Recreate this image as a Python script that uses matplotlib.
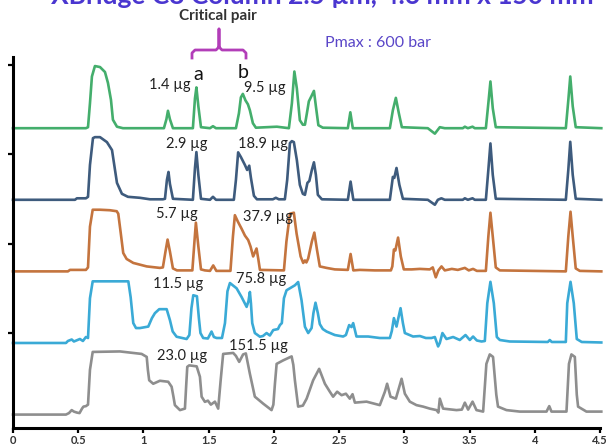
import matplotlib
matplotlib.use("Agg")
import matplotlib.pyplot as plt
from matplotlib.lines import Line2D

plt.rcParams['font.family'] = ['Lato', 'DejaVu Sans']

# retention time (min) and signal above each trace's own baseline
green_t = [0.0, 0.559, 0.575, 0.590, 0.605, 0.628, 0.667, 0.705, 0.728, 0.751, 0.766, 0.797, 0.843,
           1.157, 1.176, 1.188, 1.203, 1.226, 1.379, 1.395, 1.406, 1.421, 1.441, 1.510, 1.533, 1.556,
           1.709, 1.732, 1.747, 1.762, 1.782, 1.801, 1.816, 1.839, 1.862, 2.023, 2.115, 2.138, 2.157,
           2.176, 2.199, 2.222, 2.238, 2.253, 2.268, 2.287, 2.307, 2.322, 2.341, 2.375, 2.567, 2.586,
           2.605, 2.889, 2.912, 2.935, 2.958, 2.981, 3.180, 3.234, 3.272, 3.310, 3.448, 3.464, 3.487,
           3.523, 3.540, 3.625, 3.644, 3.660, 3.678, 3.701, 4.238, 4.257, 4.272, 4.291, 4.314, 4.51]
green_y = [0, 0, 1, 25, 52, 62.5, 61.5, 56.5, 45.5, 28.5, 8.5, 1.5, 0,
           0, 9, 17.5, 9, 0, 0, 30, 41, 22, 1, 0, 2, 0,
           0, 15, 31, 34.5, 28, 24, 18, 5, 0.5, 1.5, 0, 25, 57,
           40, 8, 3.5, 3.5, 15, 27, 32, 37.5, 22, 3, 0.5, 0, 16,
           0, 0, 18, 30.5, 15, 1, 0, -5.5, 1, 0, 0, 1.5, 0,
           1.5, 0, 0, 25, 47, 20, 1, 0, 28, 52, 22, 1, 0]

navy_t = [0.0, 0.475, 0.490, 0.559, 0.575, 0.590, 0.613, 0.628, 0.667, 0.720, 0.759, 0.782, 0.797,
          0.835, 0.881, 0.973, 1.050, 1.149, 1.165, 1.180, 1.192, 1.203, 1.226, 1.379, 1.395, 1.406,
          1.421, 1.441, 1.510, 1.533, 1.556, 1.693, 1.709, 1.726, 1.747, 1.778, 1.795, 1.811, 1.824,
          1.847, 1.870, 1.992, 2.015, 2.038, 2.084, 2.102, 2.123, 2.138, 2.153, 2.176, 2.199, 2.222,
          2.238, 2.257, 2.272, 2.291, 2.307, 2.322, 2.337, 2.368, 2.567, 2.588, 2.609, 2.889, 2.912,
          2.923, 2.940, 2.962, 2.989, 3.180, 3.234, 3.257, 3.284, 3.310, 3.448, 3.464, 3.487, 3.523,
          3.540, 3.625, 3.644, 3.660, 3.678, 3.701, 4.238, 4.257, 4.272, 4.291, 4.314, 4.51]
navy_y = [0, 0, 1.5, 1.5, 3, 35, 62, 63, 63, 58, 50, 30, 17,
          6, 3, 2, 0.5, 0.5, 1, 20, 28, 16, 1, 0, 32, 48,
          25, 1, 0, 3, 0, 0, 20, 47.7, 43, 35, 30, 34.3, 22,
          4, 0.5, 0.5, 2, 0.5, 0.5, 20, 57, 59, 58, 40, 15, 6,
          5, 17, 19, 30, 37.7, 25, 5, 0.5, 0, 18.3, 0, 0, 23,
          22, 32, 15, 1, 0, -5, 0, 1.5, 0, 0, 1.5, 0, 1.5,
          0, 0, 30, 56.7, 25, 1, 0, 30, 58.3, 25, 1, 0]

orange_t = [0.0, 0.421, 0.437, 0.559, 0.575, 0.590, 0.611, 0.667, 0.743, 0.795, 0.807, 0.826, 0.845,
            0.871, 0.922, 1.025, 1.126, 1.149, 1.169, 1.185, 1.203, 1.226, 1.257, 1.375, 1.391, 1.402,
            1.421, 1.441, 1.471, 1.510, 1.535, 1.559, 1.667, 1.686, 1.701, 1.724, 1.752, 1.778, 1.803,
            1.821, 1.841, 1.867, 1.881, 1.893, 2.077, 2.096, 2.123, 2.153, 2.174, 2.205, 2.225, 2.238,
            2.249, 2.263, 2.291, 2.310, 2.330, 2.352, 2.404, 2.467, 2.567, 2.588, 2.609, 2.659, 2.774,
            2.897, 2.908, 2.920, 2.931, 2.952, 2.973, 2.996, 3.057, 3.119, 3.195, 3.218, 3.241, 3.261,
            3.285, 3.310, 3.364, 3.410, 3.464, 3.494, 3.527, 3.556, 3.625, 3.644, 3.660, 3.678, 3.701,
            3.732, 4.238, 4.257, 4.274, 4.291, 4.314, 4.345, 4.51]
orange_y = [0, 0, 1.5, 1.5, 4, 45, 62, 62, 61.5, 60.5, 58, 38.5, 18.5,
            12.5, 8.5, 5, 3.5, 4, 20, 32, 20, 3, 1, 1, 30, 49,
            25, 2, 1, 0.5, 6, 0.5, 0.5, 35, 56.5, 50, 43, 36, 31.5,
            25, 15, 23, 12, 1.5, 1, 30, 58, 59, 38, 15, 8.5, 11,
            9, 13, 30, 39, 22, 5, 3.5, 2, 1.5, 17.5, 1, 1.5, 1,
            1, 5, 22, 21, 34, 15, 2, 2, 2.5, 2, 4, -6, 1,
            5, 1, 2.5, 1.5, 3.5, 1, 2.5, 0.5, 0.5, 35, 59, 35, 4,
            1, 0, 35, 60, 35, 3, 0.5, 0]

blue_t = [0.0, 0.406, 0.421, 0.450, 0.467, 0.513, 0.536, 0.559, 0.575, 0.590, 0.611, 0.743, 0.884,
          0.902, 0.922, 0.943, 0.973, 1.037, 1.065, 1.088, 1.121, 1.178, 1.203, 1.224, 1.254, 1.331,
          1.352, 1.368, 1.382, 1.410, 1.425, 1.437, 1.458, 1.494, 1.522, 1.540, 1.561, 1.602, 1.625,
          1.644, 1.663, 1.714, 1.752, 1.791, 1.805, 1.816, 1.824, 1.834, 1.854, 1.893, 1.916, 1.944,
          1.969, 1.995, 2.031, 2.046, 2.061, 2.077, 2.097, 2.161, 2.186, 2.212, 2.238, 2.263, 2.289,
          2.303, 2.319, 2.337, 2.352, 2.375, 2.404, 2.467, 2.531, 2.552, 2.577, 2.595, 2.608, 2.633,
          2.723, 2.812, 2.889, 2.904, 2.920, 2.940, 2.954, 2.971, 2.989, 3.004, 3.067, 3.119, 3.165,
          3.208, 3.234, 3.259, 3.272, 3.292, 3.323, 3.374, 3.425, 3.469, 3.502, 3.527, 3.556, 3.592,
          3.617, 3.636, 3.660, 3.686, 3.709, 3.732, 3.808, 4.100, 4.115, 4.130, 4.238, 4.249, 4.274,
          4.299, 4.322, 4.360, 4.51]
blue_y = [0, 0, 2, 3.5, 1.5, 4, 2, 6, 5, 45, 62, 62, 62,
          46, 20, 15, 15, 16.5, 25, 30, 34, 34, 23, 11.6, 6.3, 4,
          8, 35, 48, 47, 25, 10, 5, 4.5, 11.5, 6, 5, 5, 20,
          52, 60.3, 55, 46.3, 36.3, 42, 51.3, 40, 20, 10, 6.3, 7, 10,
          7.5, 13, 14, 18, 20, 45, 53, 58, 61.3, 43, 16.3, 10, 15,
          30, 40.5, 30, 19, 14, 11.5, 8, 6.5, 8, 18, 16, 20, 6.5,
          6.5, 5, 5, 12, 25, 16.5, 25, 35, 20, 10, 6.5, 7, 5,
          5, 6, -3.5, 0, 10, 4, 6, 3, 8, 3, 6.5, 2.5, 1.5,
          2, 40, 61.5, 40, 6, 3, 1.5, 1, 3, 1, 1, 40, 61.5,
          40, 4, 1, 0.5]

gray_t = [0.0, 0.406, 0.429, 0.450, 0.467, 0.490, 0.510, 0.529, 0.540, 0.559, 0.575, 0.590, 0.611,
          0.820, 0.986, 1.025, 1.034, 1.044, 1.075, 1.126, 1.190, 1.216, 1.230, 1.241, 1.280, 1.318,
          1.328, 1.336, 1.351, 1.408, 1.433, 1.446, 1.471, 1.494, 1.517, 1.548, 1.573, 1.592, 1.611,
          1.688, 1.709, 1.734, 1.764, 1.785, 1.816, 1.854, 1.918, 1.982, 1.996, 2.008, 2.021, 2.071,
          2.136, 2.149, 2.161, 2.186, 2.222, 2.251, 2.301, 2.347, 2.391, 2.429, 2.454, 2.485, 2.519,
          2.552, 2.582, 2.603, 2.621, 2.710, 2.812, 2.851, 2.868, 2.894, 2.935, 2.979, 3.004, 3.042,
          3.093, 3.144, 3.195, 3.247, 3.261, 3.272, 3.297, 3.400, 3.441, 3.464, 3.489, 3.523, 3.553,
          3.604, 3.629, 3.655, 3.680, 3.705, 3.718, 3.783, 3.885, 4.090, 4.111, 4.128, 4.243, 4.262,
          4.281, 4.307, 4.322, 4.332, 4.396, 4.51]
gray_y = [0, 0, 1.5, 4.5, 3, 2, 1.5, 6, 8, 8.5, 10, 45, 63,
          63.5, 61, 58, 45, 34.5, 31, 34, 33, 28, 18, 9.5, 4.5, 6,
          30, 48, 49.5, 48.5, 38, 18, 12.8, 14, 10, 13, 6, 34.5, 61,
          62, 59, 53, 60.5, 61.5, 41, 18, 11, 4.5, 10, 31, 51, 54.5,
          58.5, 50, 34.5, 8, 9, 16, 34.5, 46, 31, 23, 18, 23, 19.5,
          21, 16, 20.5, 12, 13, 9.5, 23, 31, 18, 16, 36, 21, 13,
          9.5, 8, 6, 4.5, 2, 16, 6, 4.5, 5, 12, 5, 13, 4.5,
          3, 51, 60.5, 58, 20, 8, 4.5, 3, 3, 8.5, 3, 3, 51,
          60.5, 58, 20, 8, 3, 3]

traces = [
    (gray_t, gray_y, '#8E8E8E'),
    (blue_t, blue_y, '#3AAAD6'),
    (orange_t, orange_y, '#C4743E'),
    (navy_t, navy_y, '#3E5B7D'),
    (green_t, green_y, '#44AE6C'),
]
offsets = [8, 80, 152, 224, 296]

x_ticks = [0, 0.5, 1, 1.5, 2, 2.5, 3, 3.5, 4, 4.5]
x_labels = ['0', '0.5', '1', '1.5', '2', '2.5', '3', '3.5', '4', '4.5']

mass_labels = [('1.4 µg', 170, 85), ('9.5 µg', 265, 88),
               ('2.9 µg', 187, 144), ('18.9 µg', 263, 144),
               ('5.7 µg', 177, 214), ('37.9 µg', 268, 217),
               ('11.5 µg', 178, 284), ('75.8 µg', 261, 279),
               ('23.0 µg', 182, 356), ('151.5 µg', 258, 346)]

W, H = 607, 445
fig = plt.figure(figsize=(W / 100, H / 100), dpi=100)
ax = fig.add_axes([13 / W, (H - 428) / H, 587 / W, 371 / H])

for (t, y, c), off in zip(traces, offsets):
    ax.plot(t, [v + off for v in y], color=c, lw=1.9, solid_joinstyle='round', clip_on=False)

ax.set_xlim(0, 4.5)
ax.set_ylim(-5.5, 367.6)
ax.set_xticks(x_ticks)
ax.set_xticklabels(x_labels, fontsize=8, fontweight='bold', color='#333333')
ax.set_yticks([90, 180, 270, 360])
ax.set_yticklabels([])
ax.tick_params(axis='both', direction='out', length=3.5, width=1.6, color='black')
ax.tick_params(axis='x', pad=1.5)
for s in ['top', 'right']:
    ax.spines[s].set_visible(False)
for s in ['left', 'bottom']:
    ax.spines[s].set_linewidth(2.2)
    ax.spines[s].set_color('black')


def fx(px):
    return px / W


def fy(py):
    return 1 - py / H


fig.text(fx(322), fy(4), 'XBridge C8 Column 2.5 µm, 4.6 mm x 150 mm', ha='center', va='baseline',
         fontsize=19, fontweight='bold', color='#4A36D0')
fig.text(fx(218), fy(16), 'Critical pair', ha='center', va='center', fontsize=11,
         fontweight='bold', color='#333333')
fig.text(fx(378), fy(43), 'Pmax : 600 bar', ha='center', va='center', fontsize=11.5, color='#5A46C8')

# bracket over the critical pair
bx = [192, 192, 195, 216, 219, 219, 219, 222, 243, 246, 246]
by = [58, 53, 50, 50, 47, 29, 47, 50, 50, 53, 58]
fig.add_artist(Line2D([fx(v) for v in bx], [fy(v) for v in by], color='#B23DB8', lw=2,
                      solid_joinstyle='round', transform=fig.transFigure))

fig.text(fx(198), fy(75), 'a', ha='center', va='center', fontsize=14, color='#111111')
fig.text(fx(243), fy(72), 'b', ha='center', va='center', fontsize=14, color='#111111')

for txt, px, py in mass_labels:
    fig.text(fx(px), fy(py), txt, ha='center', va='center', fontsize=10.5, color='#222222')

fig.savefig('out.png', dpi=100)
